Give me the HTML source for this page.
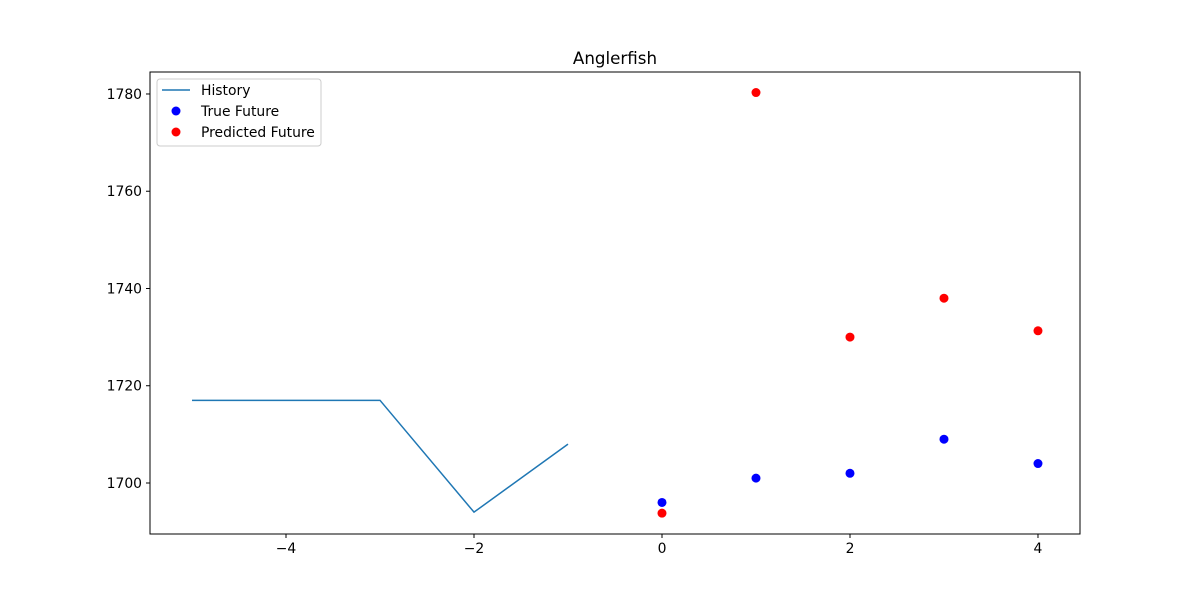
<!DOCTYPE html>
<html><head><meta charset="utf-8"><style>
body{margin:0;background:#fff;}
svg text{font-family:"DejaVu Sans","Liberation Sans",sans-serif;}
</style></head><body>
<svg id="chart" width="1200" height="600" xmlns="http://www.w3.org/2000/svg">
<rect width="1200" height="600" fill="#fff"/>
<text x="615" y="64" font-size="16.7" text-anchor="middle">Anglerfish</text>
<g id="plot"></g>
<rect x="150" y="72" width="930" height="462" fill="none" stroke="#000" stroke-width="1"/>
<g>
<rect x="157" y="79" width="164" height="67" rx="3" fill="#fff" stroke="#ccc"/>
<line x1="162" y1="90" x2="190" y2="90" stroke="#1f77b4" stroke-width="1.5"/>
<text x="201" y="95" font-size="13.9">History</text>
<circle cx="176" cy="111" r="4.5" fill="blue"/>
<text x="201" y="116" font-size="13.9">True Future</text>
<circle cx="176" cy="132" r="4.5" fill="red"/>
<text x="201" y="137" font-size="13.9">Predicted Future</text>
</g>
</svg>
<script>
const historyX = [-5, -4, -3, -2, -1];
const historyY = [1717, 1717, 1717, 1694, 1708];
const futureX = [0, 1, 2, 3, 4];
const trueY = [1696, 1701, 1702, 1709, 1704];
const predY = [1693.8, 1780.3, 1730, 1738, 1731.3];
const xTicks = [-4, -2, 0, 2, 4];
const xTickLabels = ["\u22124", "\u22122", "0", "2", "4"];
const yTicks = [1700, 1720, 1740, 1760, 1780];

const L=150,R=1080,T=72,B=534, xmin=-5.447,xmax=4.447,ymin=1689.51,ymax=1784.52;
const sx=v=>L+(v-xmin)/(xmax-xmin)*(R-L);
const sy=v=>B-(v-ymin)/(ymax-ymin)*(B-T);
const NS="http://www.w3.org/2000/svg";
const g=document.getElementById('plot');
function mk(tag,attrs){const e=document.createElementNS(NS,tag);for(const k in attrs)e.setAttribute(k,attrs[k]);g.appendChild(e);return e;}
xTicks.forEach((t,i)=>{
  const l=mk('line',{x1:sx(t),x2:sx(t),y1:B,y2:B+4,stroke:'#000'});
  
  
  const tx=mk('text',{x:sx(t),y:B+19,'font-size':13.9,'text-anchor':'middle'});
  tx.textContent=xTickLabels[i];
  
  
});
yTicks.forEach(t=>{
  const l=mk('line',{x1:L-4,x2:L,y1:sy(t),y2:sy(t),stroke:'#000'});
  
  
  const tx=mk('text',{x:L-8,y:sy(t)+5,'font-size':13.9,'text-anchor':'end'});
  tx.textContent=t;
  
  
});
const pl=mk('polyline',{points:historyX.map((x,i)=>sx(x)+','+sy(historyY[i])).join(' '),fill:'none',stroke:'#1f77b4','stroke-width':1.5});


futureX.forEach((x,i)=>{
  const c=mk('circle',{cx:sx(x),cy:sy(trueY[i]),r:4.5,fill:'blue'});
  
  
});
futureX.forEach((x,i)=>{
  const c=mk('circle',{cx:sx(x),cy:sy(predY[i]),r:4.5,fill:'red'});
  
  
});
</script>
</body></html>
